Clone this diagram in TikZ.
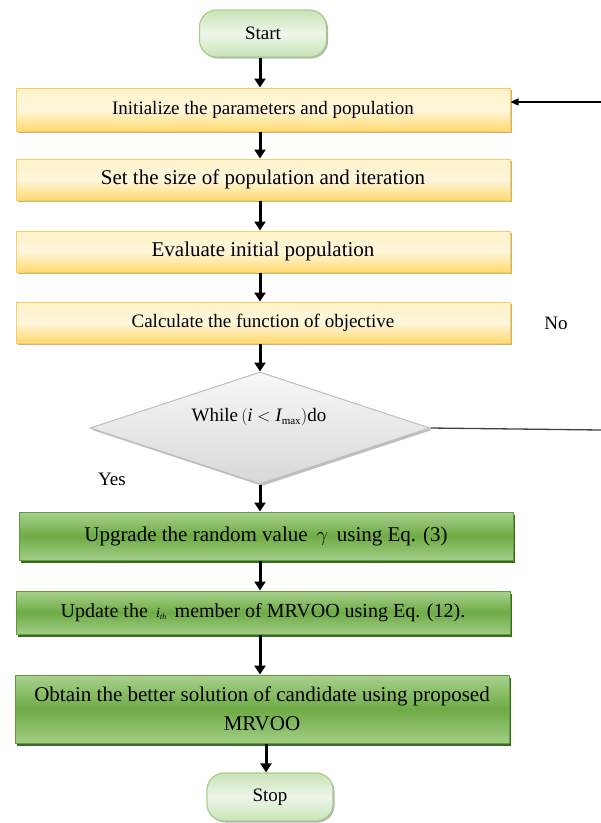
\documentclass[tikz,border=0pt]{standalone}
\usepackage{fontspec}
\setmainfont{Liberation Serif}
\usetikzlibrary{arrows.meta,shapes.geometric,shadows}
\definecolor{ytop}{HTML}{FFF3C9}
\definecolor{ymid}{HTML}{FFF6DC}
\definecolor{ybot}{HTML}{FFDA70}
\definecolor{ybord}{HTML}{F4CF63}
\definecolor{yshad}{HTML}{C9B27E}
\definecolor{gtop}{HTML}{A9D18E}
\definecolor{gmid}{HTML}{6EAB45}
\definecolor{gbot}{HTML}{A2CD86}
\definecolor{gbord}{HTML}{5F9C3B}
\definecolor{gshad}{HTML}{3E6A26}
\definecolor{ptop}{HTML}{C9E3B8}
\definecolor{pmid}{HTML}{EEF6E9}
\definecolor{pbord}{HTML}{A6CF8C}
\definecolor{dtop}{HTML}{F8F8F8}
\definecolor{dbot}{HTML}{D8D8D8}
\definecolor{dbord}{HTML}{BDBDBD}
\tikzset{
  fs/.style={font=\fontsize{#1}{#1}\selectfont},
  arr/.style={line width=3pt,-{Triangle[width=11pt,length=9pt]}},
  thinarr/.style={line width=1.3pt,-{Triangle[width=7pt,length=8pt]}},
  thinline/.style={line width=1.3pt,draw=black!75},
  ybox/.style={draw=ybord,line width=1pt,top color=ytop,bottom color=ybot,middle color=ymid,
    minimum width=494pt,inner sep=0pt,
    drop shadow={shadow xshift=2pt,shadow yshift=-2pt,fill=yshad,opacity=1}},
  gbox/.style={draw=gbord,line width=1pt,top color=gtop,bottom color=gbot,middle color=gmid,
    minimum width=494pt,inner sep=0pt,
    drop shadow={shadow xshift=2pt,shadow yshift=-2.5pt,fill=gshad,opacity=1}},
  pill/.style={draw=pbord,line width=1.2pt,top color=ptop,bottom color=ptop,middle color=pmid,
    rounded corners=17pt,minimum width=127pt,minimum height=47pt,inner sep=0pt,
    drop shadow={shadow xshift=1.5pt,shadow yshift=-1.5pt,fill=black!30,opacity=1},fs=19},
  dia/.style={diamond,draw=dbord,line width=1pt,top color=dtop,bottom color=dbot,
    aspect=3.04,minimum width=340pt,minimum height=112pt,inner sep=0pt,
    drop shadow={shadow xshift=2pt,shadow yshift=-2pt,fill=black!25,opacity=1}},
  lab/.style={inner sep=0pt,fs=19}
}
\newcommand{\itv}[1]{\mbox{\itshape #1}}
\begin{document}
\begin{tikzpicture}[x=1pt,y=-1pt]
\useasboundingbox (0,0) rectangle (601,823);
\coordinate (ax) at (260,0);
\coordinate (ax2) at (266,0);
\node[pill] (start) at (263,33.5) {Start};
\node[ybox,minimum height=43pt,fs=19] (init) at (263,109.5) {Initialize the parameters and population};
\node[ybox,minimum height=41pt,fs=21] (size) at (263,179.5) {Set the size of population and iteration};
\node[ybox,minimum height=41pt,fs=21] (eval) at (263,251.5) {Evaluate initial population};
\node[ybox,minimum height=41pt,fs=19] (calc) at (263,322.5) {Calculate the function of objective};
\node[dia] (cond) at (260,428) {};
\node[lab] (condtxt) at (259,417) {While\,$\left(\itv{i}<\itv{I}_{\mbox{\fontsize{11}{11}\selectfont max}}\right)$do};
\node[gbox,minimum height=48pt,fs=21] (upg) at (266,536) {Upgrade the random value \,$\gamma$\, using Eq. (3)};
\node[gbox,minimum height=43pt,fs=20] (upd) at (263,612.5) {Update the \,{\fontsize{14}{14}\selectfont\itshape i\raisebox{-2.5pt}{\fontsize{8}{8}\selectfont th}}\, member of MRVOO using Eq. (12).};
\node[gbox,minimum height=68pt,align=center,font=\fontsize{21}{29}\selectfont] (obt) at (262,709) {Obtain the better solution of candidate using proposed\\MRVOO};
\node[pill,minimum width=126pt,minimum height=48pt] (stop) at (270,797) {Stop};
\node[lab] (no) at (556,323) {No};
\node[lab] (yes) at (112,479) {Yes};
\coordinate (rin) at (601,102);
\coordinate (rout) at (601,430);
\draw[arr] (start.south -| ax) -- (init.north -| ax);
\draw[arr] (init.south -| ax) -- (size.north -| ax);
\draw[arr] (size.south -| ax) -- (eval.north -| ax);
\draw[arr] (eval.south -| ax) -- (calc.north -| ax);
\draw[arr] (calc.south -| ax) -- (cond.north -| ax);
\draw[arr] (cond.south -| ax) -- (upg.north -| ax);
\draw[arr] (upg.south -| ax) -- (upd.north -| ax);
\draw[arr] (upd.south -| ax) -- (obt.north -| ax);
\draw[arr] (obt.south -| ax2) -- (stop.north -| ax2);
\draw[thinarr] (rin) -- (init.east |- rin);
\draw[thinline] (cond.east) -- (rout);
\end{tikzpicture}
\end{document}
